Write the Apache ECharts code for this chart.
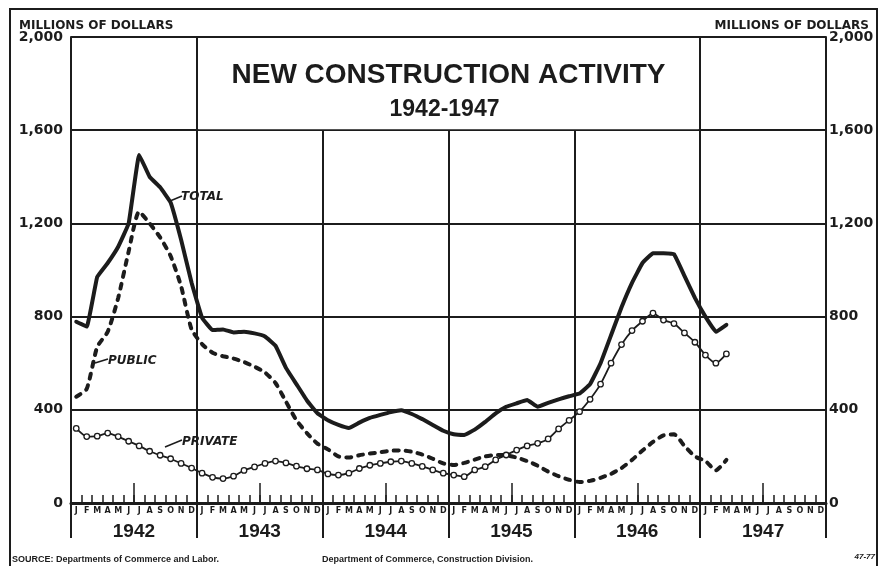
<!DOCTYPE html>
<html><head><meta charset="utf-8">
<script src="https://cdn.jsdelivr.net/npm/echarts@6/dist/echarts.min.js"></script>
<style>html,body{margin:0;padding:0;background:#fff}#c{width:882px;height:566px}</style>
</head><body><div id="c"></div>
<script>
// ---- data ----
const monthNames = ['Jan','Feb','Mar','Apr','May','Jun','Jul','Aug','Sep','Oct','Nov','Dec'];
const years = ['1942','1943','1944','1945','1946','1947'];
const yTicks = [0, 400, 800, 1200, 1600, 2000];
// monthly values, millions of dollars, Jan 1942 - Mar 1947
const totalValues = [
  778, 757, 970, 1030, 1100, 1200, 1494, 1400, 1355, 1290, 1130, 945,
  795, 742, 745, 732, 735, 728, 715, 675, 580, 510, 440, 385,
  355, 335, 322, 345, 365, 378, 390, 398, 382, 360, 335, 310,
  295, 292, 315, 348, 385, 413, 428, 442, 413, 430, 445, 458,
  470, 510, 600, 720, 840, 945, 1030, 1072, 1072, 1068, 975, 880,
  800, 735, 765
];
const publicValues = [
  456, 490, 670, 735, 880, 1080, 1250, 1200, 1140, 1060, 930, 745,
  682, 645, 630, 620, 605, 585, 560, 515, 435, 355, 300, 255,
  230, 200, 195, 205, 212, 218, 224, 226, 220, 208, 190, 170,
  163, 172, 186, 200, 206, 205, 195, 180, 160, 135, 115, 100,
  90, 95, 108, 125, 150, 185, 225, 262, 290, 295, 245, 200,
  180, 140, 185
];
const privateValues = [
  320, 285, 287, 300, 285, 265, 245, 222, 205, 190, 170, 150,
  128, 110, 105, 115, 140, 155, 170, 180, 172, 158, 147, 142,
  125, 120, 128, 148, 162, 170, 177, 180, 170, 157, 142, 128,
  120, 113, 142, 156, 185, 206, 227, 245, 256, 275, 318, 355,
  392, 445, 510, 600, 680, 740, 780, 815, 785, 770, 730, 690,
  635, 600, 640
];

const monthCats = [];
years.forEach(y => monthNames.forEach(m => monthCats.push(m + ' ' + y)));

const ink = '#1c1c1c';
const fmt = v => String(v).replace(/\B(?=(\d{3})+(?!\d))/g, ',');

const chart = echarts.init(document.getElementById('c'), null, {renderer: 'canvas'});

const yLabel = {fontSize: 14, fontWeight: 'bold', fontFamily: 'DejaVu Sans', color: ink, formatter: fmt};

chart.setOption({
  backgroundColor: '#ffffff',
  animation: false,
  textStyle: {fontFamily: 'DejaVu Sans'},
  grid: {left: 71, right: 56, top: 37, bottom: 63, containLabel: false, outerBoundsMode: 'none'},
  xAxis: [
    {
      type: 'category', data: monthCats, boundaryGap: true, position: 'bottom',
      axisLine: {show: true, lineStyle: {color: ink, width: 3}},
      axisTick: {show: true, inside: true, length: 8, interval: 0, lineStyle: {color: ink, width: 1.5}},
      axisLabel: {show: true, interval: 0, margin: 4, fontSize: 8, fontWeight: 'bold', color: ink,
                  formatter: v => v.charAt(0)},
      splitLine: {show: false}
    },
    {
      type: 'category', data: years, boundaryGap: true, position: 'bottom',
      axisLine: {show: false},
      axisTick: {show: true, inside: false, length: 35, lineStyle: {color: ink, width: 2}},
      axisLabel: {show: true, interval: 0, margin: 19, fontSize: 19, fontWeight: 'bold',
                  fontFamily: 'Liberation Sans', color: ink},
      splitLine: {show: true, lineStyle: {color: ink, width: 2}}
    },
    {
      type: 'category', data: monthCats, boundaryGap: true, position: 'bottom',
      axisLine: {show: false},
      axisTick: {show: true, inside: true, length: 20, interval: (i) => i % 12 === 6,
                 lineStyle: {color: ink, width: 1.5}},
      axisLabel: {show: false},
      splitLine: {show: false}
    }
  ],
  yAxis: [
    {
      type: 'value', min: yTicks[0], max: yTicks[yTicks.length - 1], interval: yTicks[1] - yTicks[0], position: 'left',
      axisLine: {show: true, lineStyle: {color: ink, width: 2}},
      axisTick: {show: false},
      axisLabel: Object.assign({margin: 8}, yLabel),
      splitLine: {show: true, lineStyle: {color: ink, width: 2}}
    },
    {
      type: 'value', min: yTicks[0], max: yTicks[yTicks.length - 1], interval: yTicks[1] - yTicks[0], position: 'right',
      axisLine: {show: true, lineStyle: {color: ink, width: 2}},
      axisTick: {show: false},
      axisLabel: Object.assign({margin: 3}, yLabel),
      splitLine: {show: false}
    }
  ],
  series: [
    {
      name: 'PUBLIC', type: 'line', data: publicValues, xAxisIndex: 0, yAxisIndex: 0,
      showSymbol: false, smooth: 0.2, z: 3,
      lineStyle: {color: ink, width: 4, type: [5, 7], cap: 'round'}
    },
    {
      name: 'PRIVATE', type: 'line', data: privateValues, xAxisIndex: 0, yAxisIndex: 0,
      symbol: 'circle', symbolSize: 5.5, showSymbol: true, smooth: 0.2, z: 4,
      lineStyle: {color: ink, width: 1.8},
      itemStyle: {color: '#ffffff', borderColor: ink, borderWidth: 1.3}
    },
    {
      name: 'TOTAL', type: 'line', data: totalValues, xAxisIndex: 0, yAxisIndex: 0,
      showSymbol: false, smooth: 0.08, z: 5,
      lineStyle: {color: ink, width: 4, cap: 'round', join: 'round'}
    }
  ]
});

// ---- decorations positioned from the axes ----
const px = (i, v) => chart.convertToPixel({xAxisIndex: 0, yAxisIndex: 0}, [i, v]);
const monthW = px(1, 0)[0] - px(0, 0)[0];
const xBound = (i) => px(i, 0)[0] - monthW / 2;
const yAt = (v) => chart.convertToPixel({yAxisIndex: 0}, v);

const boxL = xBound(12), boxR = xBound(60);
const boxT = yAt(2000), boxB = yAt(1600);
const cx = (boxL + boxR) / 2;

const labelFont = 'italic bold 12px "DejaVu Sans"';

chart.setOption({
  graphic: {elements: [
    {type: 'rect', z: 50, silent: true,
     shape: {x: boxL + 1.5, y: boxT + 1, width: boxR - boxL - 3, height: boxB - boxT - 2},
     style: {fill: '#ffffff'}},
    {type: 'text', z: 60, x: cx, y: boxT + 38, style: {text: 'NEW CONSTRUCTION ACTIVITY', fill: ink,
      font: 'bold 28px "Liberation Sans"', textAlign: 'center', textVerticalAlign: 'middle'}},
    {type: 'text', z: 60, x: cx - 4, y: boxT + 73, style: {text: '1942-1947', fill: ink,
      font: 'bold 23px "Liberation Sans"', textAlign: 'center', textVerticalAlign: 'middle'}},
    // outer frame
    {type: 'rect', z: 60, silent: true, shape: {x: 10, y: 9, width: 867, height: 580},
     style: {fill: null, stroke: ink, lineWidth: 2}},
    {type: 'text', z: 60, x: 19, y: 26, style: {text: 'MILLIONS OF DOLLARS', fill: ink,
      font: 'bold 12px "DejaVu Sans"', textAlign: 'left', textVerticalAlign: 'middle'}},
    {type: 'text', z: 60, x: 869, y: 26, style: {text: 'MILLIONS OF DOLLARS', fill: ink,
      font: 'bold 12px "DejaVu Sans"', textAlign: 'right', textVerticalAlign: 'middle'}},
    // series labels
    {type: 'text', z: 60, x: 181, y: 197, style: {text: 'TOTAL', fill: ink, font: labelFont, textVerticalAlign: 'middle'}},
    {type: 'line', z: 60, shape: {x1: 170, y1: 201, x2: 182, y2: 196}, style: {stroke: ink, lineWidth: 1.5}},
    {type: 'text', z: 60, x: 108, y: 361, style: {text: 'PUBLIC', fill: ink, font: labelFont, textVerticalAlign: 'middle'}},
    {type: 'line', z: 60, shape: {x1: 95, y1: 363, x2: 108, y2: 359}, style: {stroke: ink, lineWidth: 1.5}},
    {type: 'text', z: 60, x: 182, y: 442, style: {text: 'PRIVATE', fill: ink, font: labelFont, textVerticalAlign: 'middle'}},
    {type: 'line', z: 60, shape: {x1: 165, y1: 447, x2: 182, y2: 440}, style: {stroke: ink, lineWidth: 1.5}},
    // footer
    {type: 'text', z: 60, x: 12, y: 560, style: {text: 'SOURCE: Departments of Commerce and Labor.', fill: ink,
      font: 'bold 9px "Liberation Sans"', textVerticalAlign: 'middle'}},
    {type: 'text', z: 60, x: 322, y: 560, style: {text: 'Department of Commerce, Construction Division.', fill: ink,
      font: 'bold 9px "Liberation Sans"', textVerticalAlign: 'middle'}},
    {type: 'text', z: 60, x: 875, y: 557, style: {text: '47-77', fill: ink,
      font: 'italic bold 8px "Liberation Sans"', textAlign: 'right', textVerticalAlign: 'middle'}}
  ]}
});
</script>
</body></html>
